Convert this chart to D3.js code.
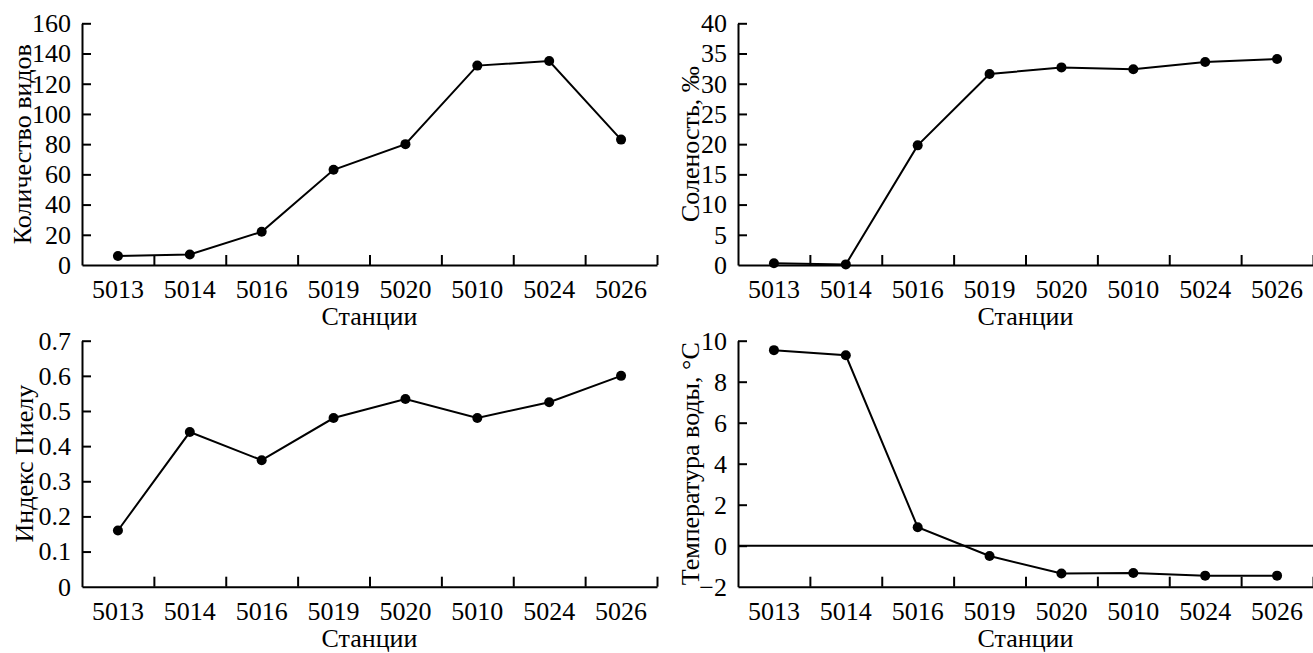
<!DOCTYPE html>
<html>
<head>
<meta charset="utf-8">
<script src="https://cdn.jsdelivr.net/npm/d3@7"></script>
<style>
	body { margin: 0; background: #fff; }
	.axis path, .axis line { stroke: #000; stroke-width: 2; }
</style>
</head>
<body>
<div id="chart"></div>
<script>
const stations = ['5013', '5014', '5016', '5019', '5020', '5010', '5024', '5026'];
const speciesCount = [6, 7, 22, 63, 80, 132, 135, 83];
const salinity = [0.3, 0.1, 19.8, 31.6, 32.7, 32.4, 33.6, 34.1];
const pielouIndex = [0.16, 0.44, 0.36, 0.48, 0.534, 0.48, 0.525, 0.6];
const waterTemp = [9.54, 9.29, 0.9, -0.5, -1.36, -1.33, -1.46, -1.46];

const xTitle = 'Станции';

const settings = {
	width: 1313,
	height: 653,
	fontSize: 26,
	font: "'Liberation Serif', 'Times New Roman', serif"
};

// one entry per panel: where it sits + which series
const panels = [
	{ values: speciesCount, domain: [0, 160], ticks: d3.range(0, 161, 20), title: 'Количество видов', left: 82, right: 657, top: 23.3, bottom: 265, titleX: 31 },
	{ values: salinity, domain: [0, 40], ticks: d3.range(0, 41, 5), title: 'Соленость, ‰', left: 738, right: 1313, top: 23.3, bottom: 265, titleX: 699 },
	{ values: pielouIndex, domain: [0, 0.7], ticks: d3.range(0, 8).map(d => d / 10), title: 'Индекс Пиелу', left: 82, right: 657, top: 340.7, bottom: 586.7, titleX: 33 },
	{ values: waterTemp, domain: [-2, 10], ticks: d3.range(-2, 11, 2), title: 'Температура воды, °C', left: 738, right: 1313, top: 340.7, bottom: 586.7, titleX: 699, zeroLine: true }
];

const svg = d3.select('#chart').append('svg')
	.attr('width', settings.width)
	.attr('height', settings.height)
	.attr('font-family', settings.font);

const styleText = sel => sel.selectAll('text')
	.attr('font-family', settings.font)
	.attr('font-size', settings.fontSize)
	.attr('fill', '#000');

panels.forEach(p => {
	const g = svg.append('g');

	const x = d3.scaleBand()
		.domain(stations)
		.range([p.left, p.right])
		.padding(0);

	const xEdges = d3.scaleLinear()
		.domain([0, stations.length])
		.range([p.left, p.right]);

	const y = d3.scaleLinear()
		.domain(p.domain)
		.range([p.bottom, p.top]);

	// y axis, ticks pointing inward
	g.append('g')
		.attr('class', 'axis')
		.attr('transform', `translate(${p.left},0)`)
		.call(d3.axisLeft(y)
			.tickValues(p.ticks)
			.tickSizeInner(-9)
			.tickSizeOuter(0)
			.tickPadding(11)
			.tickFormat(d3.format('')))
		.call(styleText)
		.call(a => a.selectAll('.tick line').filter(d => d === p.domain[0]).remove());

	// x axis: labels at band centres
	g.append('g')
		.attr('class', 'axis')
		.attr('transform', `translate(0,${p.bottom})`)
		.call(d3.axisBottom(x).tickSize(0).tickPadding(15))
		.call(styleText)
		.call(a => a.select('.domain').remove());

	// x axis line + ticks at the band edges
	g.append('g')
		.attr('class', 'axis')
		.attr('transform', `translate(0,${p.bottom})`)
		.call(d3.axisBottom(xEdges)
			.tickValues(d3.range(1, stations.length + 1))
			.tickSizeInner(-10)
			.tickSizeOuter(0)
			.tickFormat(''));

	if (p.zeroLine) {
		g.append('line')
			.attr('x1', p.left)
			.attr('x2', p.right)
			.attr('y1', y(0))
			.attr('y2', y(0))
			.attr('stroke', '#000')
			.attr('stroke-width', 2);
	}

	const line = d3.line()
		.x((d, i) => x(stations[i]) + x.bandwidth() / 2)
		.y(d => y(d));

	g.append('path')
		.datum(p.values)
		.attr('d', line)
		.attr('fill', 'none')
		.attr('stroke', '#000')
		.attr('stroke-width', 2);

	g.selectAll('circle')
		.data(p.values)
		.join('circle')
		.attr('cx', (d, i) => x(stations[i]) + x.bandwidth() / 2)
		.attr('cy', d => y(d))
		.attr('r', 5)
		.attr('fill', '#000');

	// axis titles
	g.append('text')
		.attr('x', (p.left + p.right) / 2)
		.attr('y', p.bottom + 60)
		.attr('text-anchor', 'middle')
		.attr('font-family', settings.font)
		.attr('font-size', settings.fontSize)
		.text(xTitle);

	g.append('text')
		.attr('transform', `translate(${p.titleX},${(p.top + p.bottom) / 2}) rotate(-90)`)
		.attr('text-anchor', 'middle')
		.attr('font-family', settings.font)
		.attr('font-size', settings.fontSize)
		.text(p.title);
});
</script>
</body>
</html>
